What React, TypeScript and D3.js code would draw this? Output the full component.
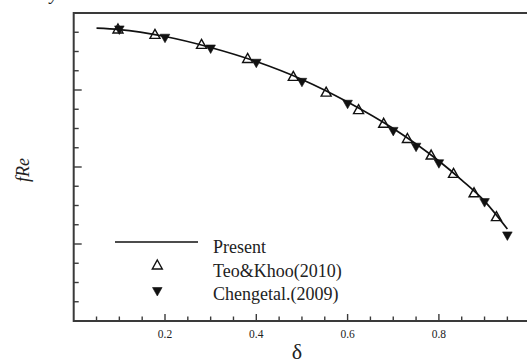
import React from "react";
import * as d3 from "d3";

const presentDelta = [0.05, 0.1, 0.2, 0.3, 0.4, 0.5, 0.6, 0.7, 0.8, 0.85, 0.9, 0.95];
const presentFRe = [15.21, 15.14, 14.78, 14.21, 13.48, 12.55, 11.38, 10.0, 8.31, 7.32, 6.23, 4.78];

const teoDelta = [0.097, 0.178, 0.28, 0.381, 0.481, 0.553, 0.624, 0.679, 0.731, 0.783, 0.832, 0.877, 0.926];
const teoFRe = [15.17, 14.89, 14.37, 13.64, 12.71, 11.89, 10.98, 10.27, 9.48, 8.62, 7.67, 6.66, 5.42];

const chengDelta = [0.1, 0.2, 0.3, 0.4, 0.5, 0.6, 0.7, 0.75, 0.8, 0.9, 0.95];
const chengFRe = [15.12, 14.69, 14.13, 13.39, 12.4, 11.26, 9.85, 9.03, 8.17, 6.15, 4.42];

const xTickLabels = ["0.2", "0.4", "0.6", "0.8"];
const legendLabels = ["Present", "Teo&Khoo(2010)", "Chengetal.(2009)"];

const W = 527;
const H = 361;

export default function App() {
  const x = d3.scaleLinear().domain([0, 1]).range([73.7, 530.2]);
  const y = d3.scaleLinear().domain([0, 16]).range([321, 13]);

  const line = d3
    .line<number>()
    .x((_, i) => x(presentDelta[i]))
    .y((d) => y(d))
    .curve(d3.curveMonotoneX);

  const xMinor = d3.range(1, 20).map((i) => i * 0.05);
  const yMinor = d3.range(1, 16);

  const axisColor = "#3a3a3a";
  const upTri = (cx: number, cy: number) =>
    `M${cx},${cy - 5} L${cx + 5},${cy + 4} L${cx - 5},${cy + 4} Z`;
  const downTri = (cx: number, cy: number) =>
    `M${cx - 4.8},${cy - 4} L${cx + 4.8},${cy - 4} L${cx},${cy + 4.5} Z`;

  const font = "'Liberation Serif', 'Times New Roman', serif";

  return (
    <svg
      width={W}
      height={H}
      style={{ position: "absolute", left: 0, top: 0, overflow: "hidden", background: "#fff" }}
      fontFamily={font}
    >
      <rect x={0} y={0} width={W} height={H} fill="#fff" />
      {/* partially cut text at top */}
      <text x={50} y={0} fontSize={18} fontStyle="italic" fill="#222">y</text>

      {/* ticks */}
      {xMinor.map((t) => {
        const major = Math.abs((t * 100) % 20) < 0.001 || Math.abs((t * 100) % 20 - 20) < 0.001;
        return (
          <line
            key={"xt" + t}
            x1={x(t)}
            x2={x(t)}
            y1={y(0)}
            y2={y(0) - (major ? 7 : 4.5)}
            stroke={axisColor}
            strokeWidth={1.4}
          />
        );
      })}
      {yMinor.map((t) => {
        const major = t % 4 === 0;
        return (
          <line
            key={"yt" + t}
            x1={x(0)}
            x2={x(0) + (major ? 8 : 5)}
            y1={y(t)}
            y2={y(t)}
            stroke={axisColor}
            strokeWidth={1.4}
          />
        );
      })}

      {/* frame */}
      <path
        d={`M${x(1)},${y(16)} L${x(0)},${y(16)} L${x(0)},${y(0)} L${x(1)},${y(0)}`}
        fill="none"
        stroke={axisColor}
        strokeWidth={2}
      />

      {xTickLabels.map((l) => (
        <text key={l} x={x(+l)} y={338} fontSize={11.5} textAnchor="middle" fill="#222">
          {l}
        </text>
      ))}

      <text x={297} y={359} fontSize={22} textAnchor="middle" fill="#222">δ</text>
      <text
        transform={`translate(29,170) rotate(-90)`}
        fontSize={18}
        fontStyle="italic"
        textAnchor="middle"
        fill="#222"
      >
        fRe
      </text>

      {/* Present curve */}
      <path d={line(presentFRe) || ""} fill="none" stroke="#111" strokeWidth={1.7} />

      {/* Teo&Khoo open triangles */}
      {teoDelta.map((d, i) => (
        <path key={"teo" + i} d={upTri(x(d), y(teoFRe[i]))} fill="#fff" fillOpacity={0} stroke="#111" strokeWidth={1.4} />
      ))}

      {/* Cheng filled down triangles */}
      {chengDelta.map((d, i) => (
        <path key={"ch" + i} d={downTri(x(d), y(chengFRe[i]))} fill="#111" stroke="#111" strokeWidth={0.6} />
      ))}

      {/* legend */}
      <line x1={115} x2={198} y1={242} y2={242} stroke="#111" strokeWidth={1.7} />
      <path d={upTri(157.3, 265)} fill="none" stroke="#111" strokeWidth={1.4} />
      <path d={downTri(157.3, 291.5)} fill="#111" stroke="#111" strokeWidth={0.6} />
      {legendLabels.map((l, i) => (
        <text key={l} x={213} y={253.3 + i * 23.4} fontSize={18} fill="#222">
          {l}
        </text>
      ))}
    </svg>
  );
}
